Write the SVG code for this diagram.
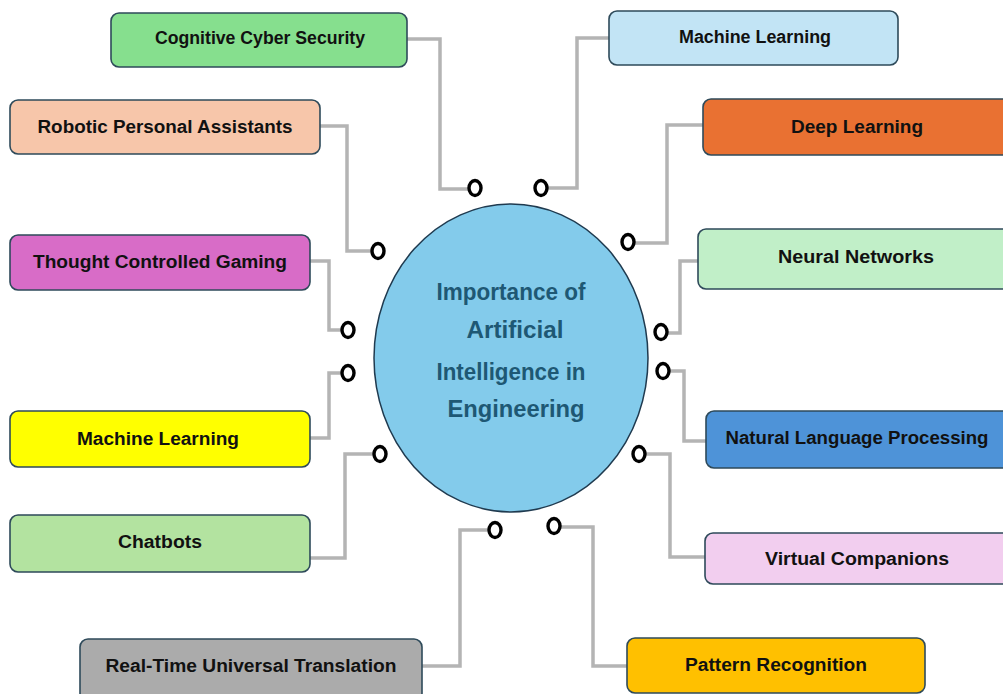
<svg xmlns="http://www.w3.org/2000/svg" width="1003" height="694" viewBox="0 0 1003 694">
<style>
.box{stroke:#2e4a5a;stroke-width:1.6}
.lbl{font-family:"Liberation Sans",Arial,sans-serif;font-weight:bold;font-size:18px;fill:#111;text-anchor:middle}
.ctr{font-family:"Liberation Sans",Arial,sans-serif;font-weight:bold;font-size:23px;fill:#1e5874;text-anchor:middle}
.con{fill:none;stroke:#b4b4b4;stroke-width:3.5}
.dot{fill:#fff;stroke:#000;stroke-width:3.4}
</style>
<rect width="1003" height="694" fill="#fff"/>
<g id="connectors">
<polyline class="con" points="407,39 440,39 440,189 468,189"/>
<polyline class="con" points="547,188 577,188 577,38 609,38"/>
<polyline class="con" points="320,126 347,126 347,251 372,251"/>
<polyline class="con" points="634,243 667,243 667,125 703,125"/>
<polyline class="con" points="310,261 329,261 329,330 342,330"/>
<polyline class="con" points="667,333 680,333 680,261 698,261"/>
<polyline class="con" points="310,438 329,438 329,373 342,373"/>
<polyline class="con" points="669,371 684,371 684,441 706,441"/>
<polyline class="con" points="310,558 345,558 345,454 374,454"/>
<polyline class="con" points="645,454 670,454 670,557 705,557"/>
<polyline class="con" points="489,530 460,530 460,666 422,666"/>
<polyline class="con" points="560,527 593,527 593,666 627,666"/>
</g>
<g id="center">
<ellipse cx="511" cy="358" rx="137" ry="154" fill="#83CBEB" stroke="#1f3a4f" stroke-width="1.5"/>
<text class="ctr" x="511" y="300" textLength="149" lengthAdjust="spacingAndGlyphs">Importance of</text>
<text class="ctr" x="515" y="338" textLength="97" lengthAdjust="spacingAndGlyphs">Artificial</text>
<text class="ctr" x="511" y="380" textLength="149" lengthAdjust="spacingAndGlyphs">Intelligence in</text>
<text class="ctr" x="516" y="417" textLength="137" lengthAdjust="spacingAndGlyphs">Engineering</text>
</g>
<g id="ports">
<ellipse class="dot" cx="475" cy="188" rx="6" ry="7.5"/>
<ellipse class="dot" cx="541" cy="188" rx="6" ry="7.5"/>
<ellipse class="dot" cx="378" cy="251" rx="6" ry="7.5"/>
<ellipse class="dot" cx="628" cy="242" rx="6" ry="7.5"/>
<ellipse class="dot" cx="348" cy="330" rx="6" ry="7.5"/>
<ellipse class="dot" cx="661" cy="332" rx="6" ry="7.5"/>
<ellipse class="dot" cx="348" cy="373" rx="6" ry="7.5"/>
<ellipse class="dot" cx="663" cy="371" rx="6" ry="7.5"/>
<ellipse class="dot" cx="380" cy="454" rx="6" ry="7.5"/>
<ellipse class="dot" cx="639" cy="454" rx="6" ry="7.5"/>
<ellipse class="dot" cx="495" cy="530" rx="6" ry="7.5"/>
<ellipse class="dot" cx="554" cy="526" rx="6" ry="7.5"/>
</g>
<g id="n-cognitive"><rect class="box" x="111" y="13" width="296" height="54" rx="8" fill="#86DF8E"/><text class="lbl" x="260" y="44" textLength="210" lengthAdjust="spacingAndGlyphs">Cognitive Cyber Security</text></g>
<g id="n-robotic"><rect class="box" x="10" y="100" width="310" height="54" rx="8" fill="#F7C6AA"/><text class="lbl" x="165" y="133" textLength="255" lengthAdjust="spacingAndGlyphs">Robotic Personal Assistants</text></g>
<g id="n-thought"><rect class="box" x="10" y="235" width="300" height="55" rx="8" fill="#D86CC7"/><text class="lbl" x="160" y="268" textLength="254" lengthAdjust="spacingAndGlyphs">Thought Controlled Gaming</text></g>
<g id="n-ml-left"><rect class="box" x="10" y="411" width="300" height="56" rx="8" fill="#FFFF00"/><text class="lbl" x="158" y="445" textLength="162" lengthAdjust="spacingAndGlyphs">Machine  Learning</text></g>
<g id="n-chatbots"><rect class="box" x="10" y="515" width="300" height="57" rx="8" fill="#B3E3A0"/><text class="lbl" x="160" y="548" textLength="84" lengthAdjust="spacingAndGlyphs">Chatbots</text></g>
<g id="n-realtime"><rect class="box" x="80" y="639" width="342" height="62" rx="8" fill="#ABABAB"/><text class="lbl" x="251" y="672" textLength="291" lengthAdjust="spacingAndGlyphs">Real-Time Universal Translation</text></g>
<g id="n-ml-right"><rect class="box" x="609" y="11" width="289" height="54" rx="8" fill="#C2E4F5"/><text class="lbl" x="755" y="43" textLength="152" lengthAdjust="spacingAndGlyphs">Machine Learning</text></g>
<g id="n-deep"><rect class="box" x="703" y="99" width="310" height="56" rx="8" fill="#E97132"/><text class="lbl" x="857" y="133" textLength="132" lengthAdjust="spacingAndGlyphs">Deep Learning</text></g>
<g id="n-neural"><rect class="box" x="698" y="229" width="315" height="60" rx="8" fill="#C1EFC8"/><text class="lbl" x="856" y="263" textLength="156" lengthAdjust="spacingAndGlyphs">Neural  Networks</text></g>
<g id="n-nlp"><rect class="box" x="706" y="411" width="307" height="57" rx="8" fill="#4E93D8"/><text class="lbl" x="857" y="444" textLength="263" lengthAdjust="spacingAndGlyphs">Natural Language Processing</text></g>
<g id="n-virtual"><rect class="box" x="705" y="533" width="308" height="51" rx="8" fill="#F2CEEF"/><text class="lbl" x="857" y="565" textLength="184" lengthAdjust="spacingAndGlyphs">Virtual Companions</text></g>
<g id="n-pattern"><rect class="box" x="627" y="638" width="298" height="55" rx="8" fill="#FFC000"/><text class="lbl" x="776" y="671" textLength="182" lengthAdjust="spacingAndGlyphs">Pattern  Recognition</text></g>
</svg>
